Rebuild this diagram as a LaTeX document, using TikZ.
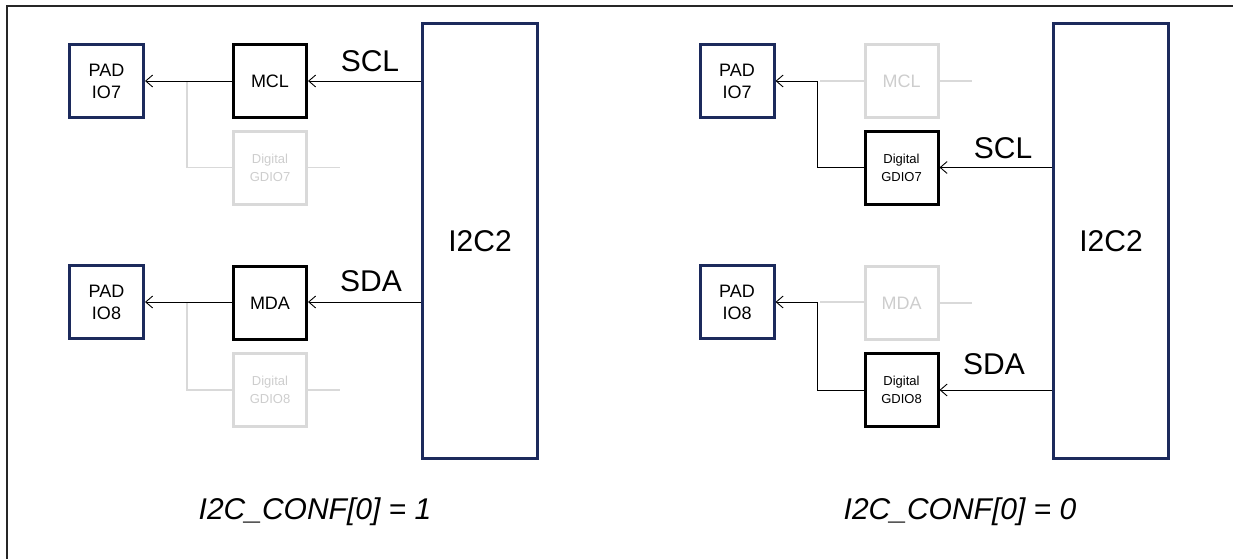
\documentclass[tikz,border=0pt]{standalone}
\usepackage{fontspec}
\setmainfont{Liberation Sans}
\usetikzlibrary{arrows.meta}
\definecolor{navy}{RGB}{28,42,92}
\definecolor{ghostline}{RGB}{217,217,217}
\definecolor{ghosttext}{RGB}{205,205,205}
\tikzset{
  padbox/.style={draw=navy,line width=3pt,minimum width=74pt,minimum height=73pt,align=center,inner sep=0pt,
    font=\fontsize{18}{22}\selectfont},
  blkbox/.style={draw=black,line width=3pt,minimum width=73pt,minimum height=73pt,align=center,inner sep=0pt},
  ghostbox/.style={draw=ghostline,line width=3pt,minimum width=73pt,minimum height=73pt,align=center,inner sep=0pt,text=ghosttext},
  bigf/.style={font=\fontsize{18}{22}\selectfont},
  smallf/.style={font=\fontsize{13}{18}\selectfont},
  busbox/.style={draw=navy,line width=3pt,minimum width=115pt,minimum height=435pt,inner sep=0pt,
    font=\fontsize{30}{34}\selectfont},
  conn/.style={draw=black,line width=0.9pt,-{Straight Barb[length=7pt,width=12pt,line width=0.9pt]}},
  wire/.style={draw=black,line width=0.9pt},
  ghostwire/.style={draw=ghostline,line width=1.2pt},
  sig/.style={font=\fontsize{30}{34}\selectfont,inner sep=0pt},
  capt/.style={font=\fontsize{30}{34}\selectfont\itshape,inner sep=0pt},
  frame/.style={draw=black!85,line width=2pt}
}
\begin{document}
\begin{tikzpicture}[x=1pt,y=-1pt]
\useasboundingbox (0,0) rectangle (1233,559);
% frame
\coordinate (fa) at (1233,6.5);
\coordinate (fb) at (7.3,6.5);
\coordinate (fc) at (7.3,559);
\draw[frame] (fa) -- (fb) -- (fc);

% ---------- left panel ----------
\node[busbox] (i2cL) at (480,241) {I2C2};
\node[padbox] (padA) at (106.5,81) {PAD\\IO7};
\node[blkbox,bigf] (mcl) at (270,81) {MCL};
\node[ghostbox,smallf] (gd7) at (270,167.5) {Digital\\GDIO7};
\node[padbox] (padB) at (106.5,302) {PAD\\IO8};
\node[blkbox,bigf] (mda) at (270,303) {MDA};
\node[ghostbox,smallf] (gd8) at (270,390) {Digital\\GDIO8};

\coordinate (jA) at (187,81);
\coordinate (jB) at (187,302);
\coordinate (eA) at (340,167.5);
\coordinate (eB) at (340,390);

\draw[ghostwire] (jA) |- (gd7.west);
\draw[ghostwire] (gd7.east) -- (eA);
\draw[ghostwire] (jB) |- (gd8.west);
\draw[ghostwire] (gd8.east) -- (eB);

\draw[conn] (mcl.west) -- (padA.east);
\draw[conn] (i2cL.west |- mcl) -- (mcl.east);
\draw[conn] (mda.west |- padB) -- (padB.east);
\draw[conn] (i2cL.west |- padB) -- (mda.east |- padB);

\node[sig] (sclL) at (370,61) {SCL};
\node[sig] (sdaL) at (371,281) {SDA};
\node[capt] (capL) at (315,512) {I2C\_CONF[0] = 1};

% ---------- right panel ----------
\node[busbox] (i2cR) at (1111,241) {I2C2};
\node[padbox] (padC) at (737,81) {PAD\\IO7};
\node[ghostbox,bigf] (mclR) at (901.5,81) {MCL};
\node[blkbox,smallf] (gdR7) at (901.5,167.5) {Digital\\GDIO7};
\node[padbox] (padD) at (737,302) {PAD\\IO8};
\node[ghostbox,bigf] (mdaR) at (901.5,303) {MDA};
\node[blkbox,smallf] (gdR8) at (901.5,390) {Digital\\GDIO8};

\coordinate (jC) at (817,81);
\coordinate (jD) at (817,302);
\coordinate (gC) at (820,81);
\coordinate (gD) at (820,302);
\coordinate (eC) at (972,81);
\coordinate (eD) at (972,303);

\draw[ghostwire] (gC) -- (mclR.west);
\draw[ghostwire] (mclR.east) -- (eC);
\draw[ghostwire] (gD) -- (mdaR.west |- gD);
\draw[ghostwire] (mdaR.east) -- (eD);

\draw[wire] (gdR7.west) -| (jC);
\draw[conn] (jC) -- (padC.east);
\draw[wire] (gdR8.west) -| (jD);
\draw[conn] (jD) -- (padD.east);
\draw[conn] (i2cR.west |- gdR7) -- (gdR7.east);
\draw[conn] (i2cR.west |- gdR8) -- (gdR8.east);

\node[sig] (sclR) at (1003,148) {SCL};
\node[sig] (sdaR) at (994,364) {SDA};
\node[capt] (capR) at (960,512) {I2C\_CONF[0] = 0};
\end{tikzpicture}
\end{document}
